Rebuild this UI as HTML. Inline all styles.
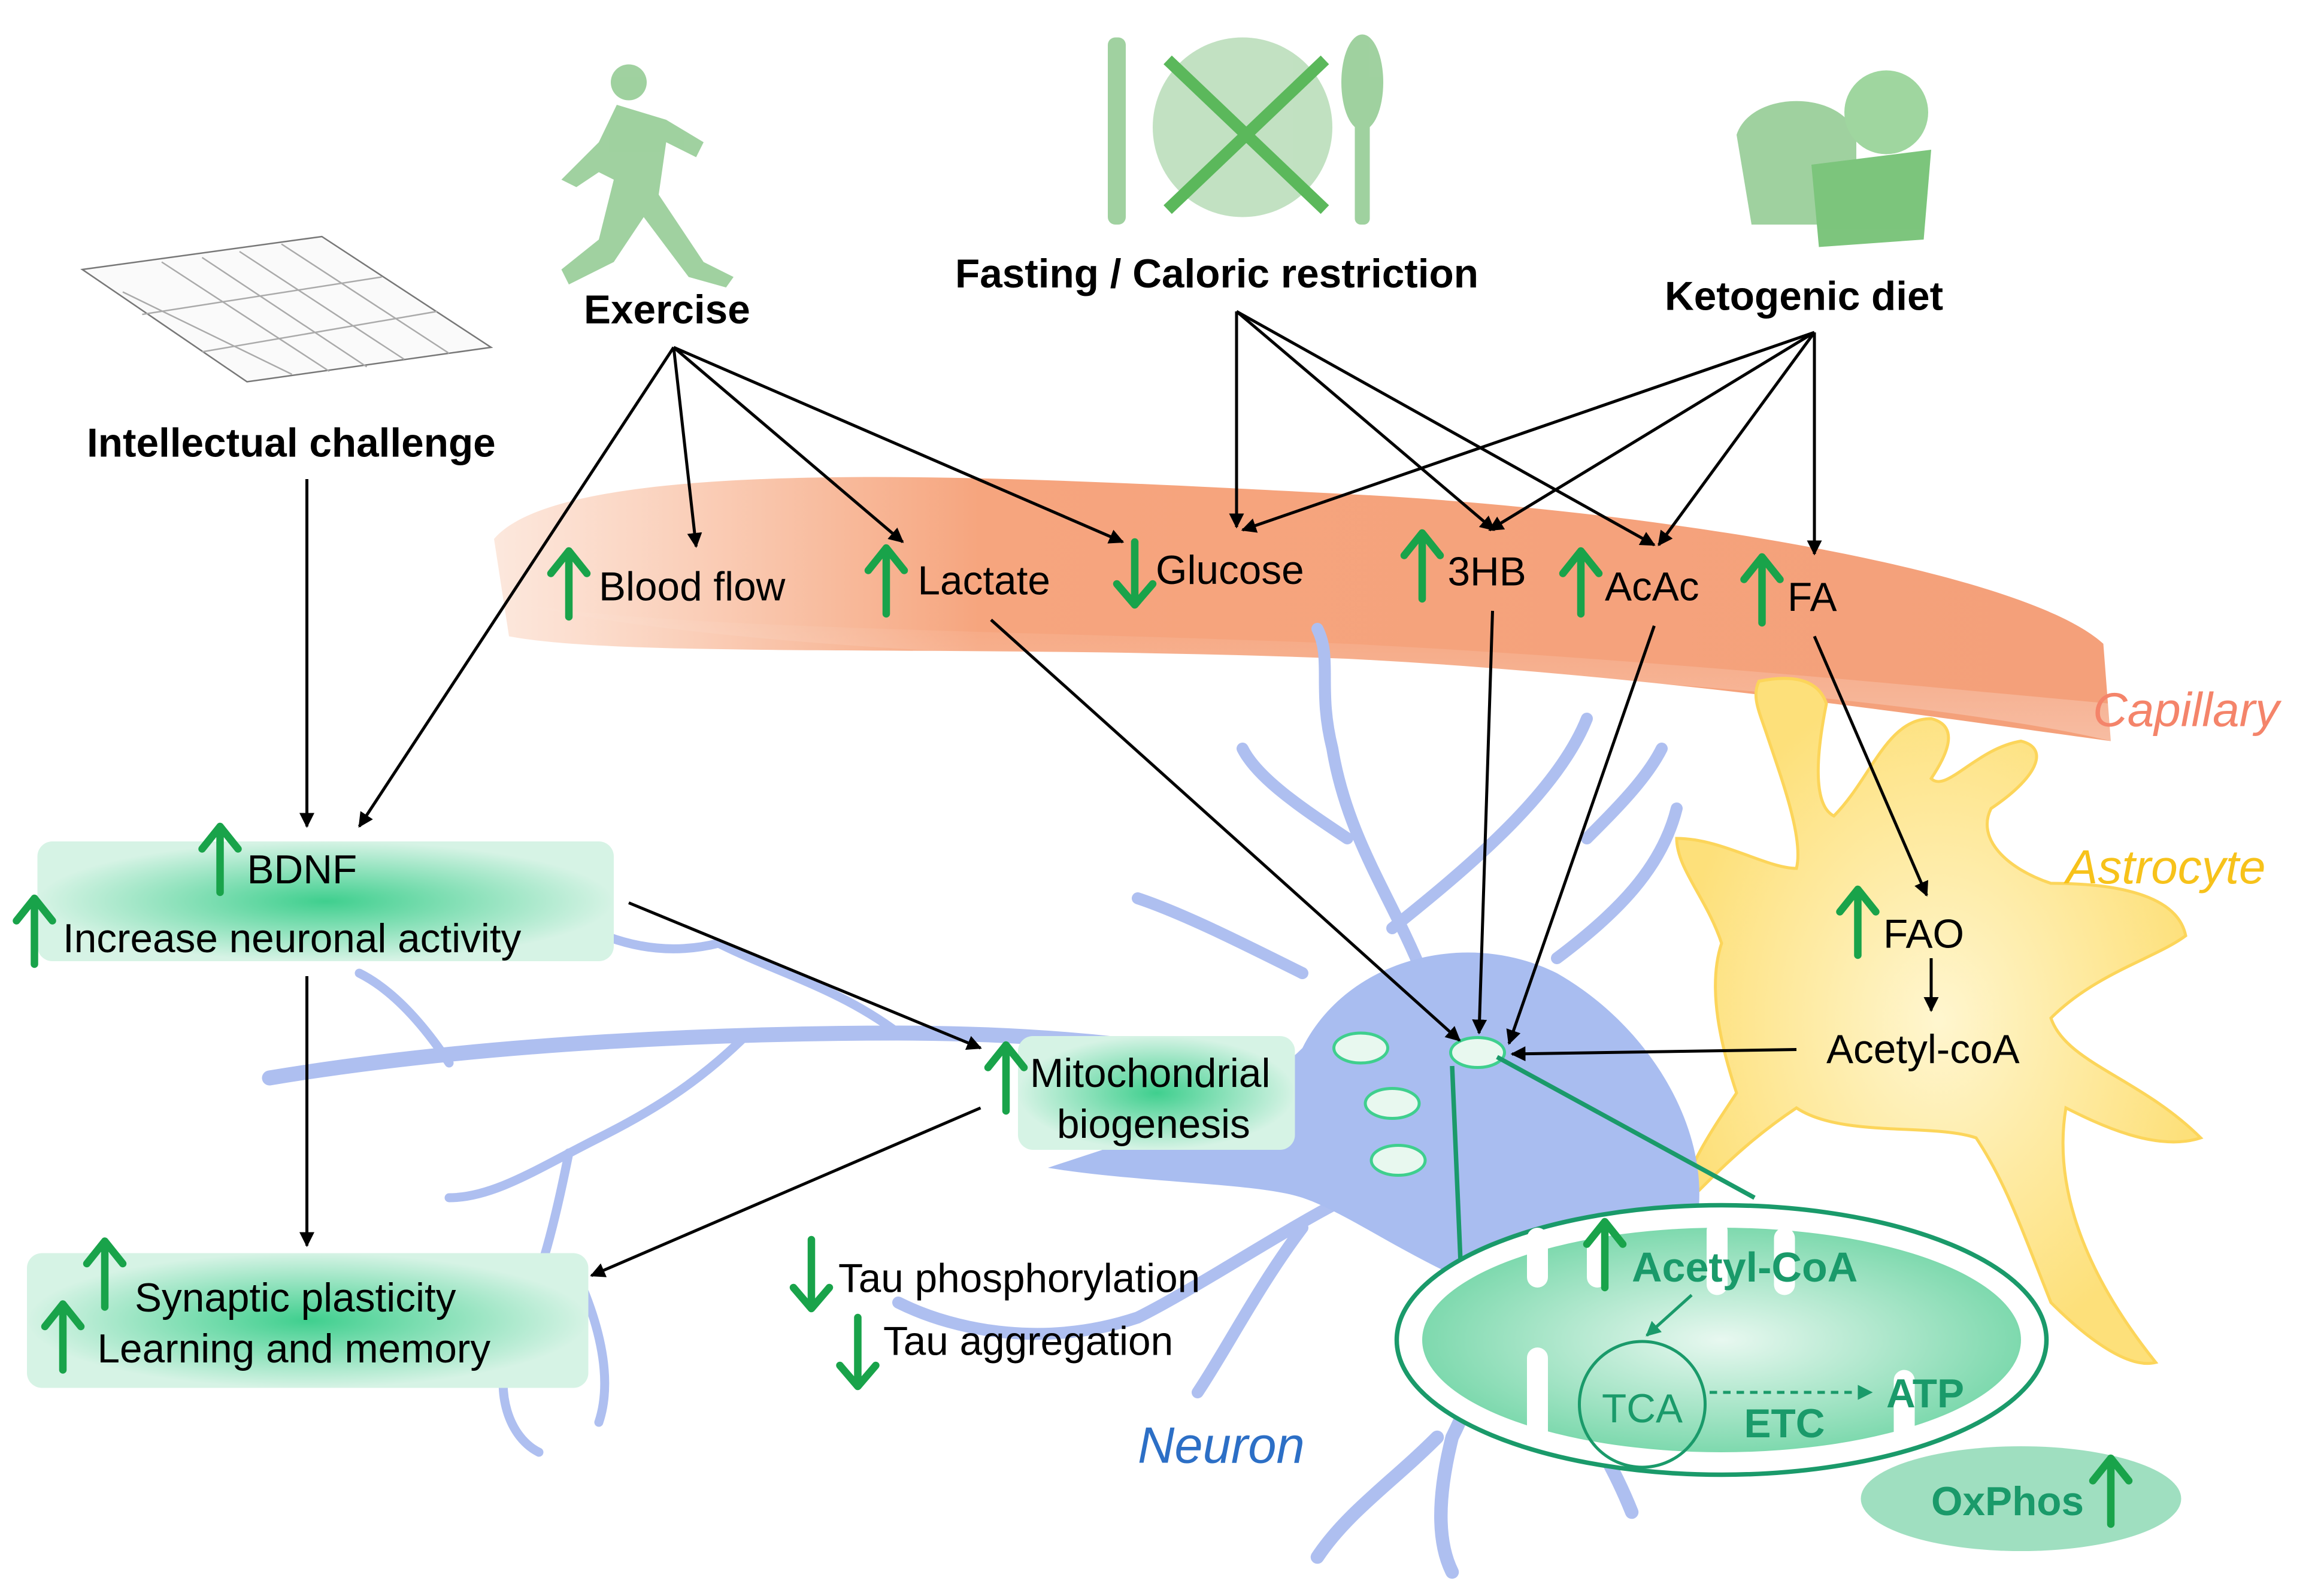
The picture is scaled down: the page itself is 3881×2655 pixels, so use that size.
<!DOCTYPE html>
<html><head><meta charset="utf-8"><style>
html,body{margin:0;padding:0;background:#fff}
svg{display:block}
text{font-family:"Liberation Sans",Arial,sans-serif}
</style></head><body>
<svg width="3881" height="2655" viewBox="0 0 1552.4 1062" xmlns="http://www.w3.org/2000/svg">
<defs>
<marker id="a" markerWidth="10" markerHeight="10" refX="9" refY="5" orient="auto" markerUnits="userSpaceOnUse"><path d="M0,0 L10,5 L0,10 z" fill="#000"/></marker>
<marker id="g" markerWidth="10" markerHeight="10" refX="9" refY="5" orient="auto" markerUnits="userSpaceOnUse"><path d="M0,0 L10,5 L0,10 z" fill="#1a9a6a"/></marker>
<linearGradient id="cap" x1="0" x2="1" y1="0" y2="0"><stop offset="0" stop-color="#f7b28e" stop-opacity="0.3"/><stop offset="0.3" stop-color="#f6a57e"/><stop offset="1" stop-color="#f4a07a"/></linearGradient>
<linearGradient id="capv" x1="0" x2="0" y1="0" y2="1"><stop offset="0" stop-color="#fff" stop-opacity="0"/><stop offset="1" stop-color="#fff" stop-opacity="0.6"/></linearGradient>
<radialGradient id="gb"><stop offset="0" stop-color="#3fcf8e"/><stop offset="1" stop-color="#d6f3e5"/></radialGradient>
<radialGradient id="mito"><stop offset="0" stop-color="#e8f8f0"/><stop offset="1" stop-color="#7ed9ae"/></radialGradient>
<radialGradient id="ast"><stop offset="0" stop-color="#fff6cf"/><stop offset="1" stop-color="#fde07a"/></radialGradient>
</defs>

<!-- capillary -->
<path d="M330,360 C380,300 700,320 900,330 C1100,340 1350,380 1405,430 L1410,495 C1300,480 1100,450 900,440 C650,430 420,440 340,425 Z" fill="url(#cap)"/>
<path d="M330,400 C500,440 800,440 1000,450 C1200,460 1350,480 1410,495 L1410,470 C1300,460 1100,440 900,430 C650,420 420,420 330,400Z" fill="url(#capv)" opacity="0.5"/>
<text x="1398" y="485" font-size="32" font-style="italic" fill="#f4846a">Capillary</text>

<!-- astrocyte -->
<g fill="url(#ast)" stroke="#fcd55a" stroke-width="2">
<path d="M1175,455 C1200,450 1215,455 1220,470 C1210,520 1215,540 1225,545 C1250,520 1260,480 1290,480 C1310,485 1300,505 1290,520 C1300,530 1320,500 1350,495 C1370,500 1360,520 1330,540 C1320,560 1340,580 1370,590 C1420,590 1455,600 1460,625 C1440,640 1400,650 1370,680 C1380,710 1430,720 1470,760 C1440,770 1400,750 1380,740 C1370,800 1400,860 1440,910 C1420,915 1390,890 1370,870 C1350,820 1340,790 1320,760 C1290,750 1230,760 1200,740 C1170,760 1150,780 1130,800 C1120,790 1140,760 1160,730 C1150,700 1140,660 1150,630 C1140,600 1120,580 1120,560 C1150,560 1180,580 1200,580 C1205,560 1190,520 1180,490 C1175,475 1170,465 1175,455Z"/>
</g>
<text x="1380" y="590" font-size="32" font-style="italic" fill="#f7c21a">Astrocyte</text>

<!-- neuron -->
<g stroke="#aebff0" fill="none" stroke-linecap="round">
<path d="M870,720 C800,700 700,690 600,690 C450,690 300,700 180,720" stroke-width="10"/>
<path d="M600,690 C560,660 520,650 480,630 M480,630 C440,640 400,630 360,600 M500,690 C470,720 440,740 400,760 M400,760 C360,780 330,800 300,800 M300,710 C280,680 260,660 240,650" stroke-width="6"/>
<path d="M1020,780 C1000,850 1000,900 970,960 C960,1000 960,1030 970,1050 M960,960 C930,990 900,1010 880,1040 M1000,880 C1040,920 1070,960 1090,1010" stroke-width="9"/>
<path d="M950,650 C930,600 900,560 890,500 C880,460 890,440 880,420 M900,560 C870,540 840,520 830,500 M930,620 C980,580 1040,530 1060,480 M1040,640 C1080,610 1110,580 1120,540 M1060,560 C1080,540 1100,520 1110,500 M870,650 C830,630 790,610 760,600" stroke-width="8"/>
<path d="M900,800 C860,820 800,860 760,880 M760,880 C700,900 640,890 600,870 M870,820 C840,860 820,900 800,930" stroke-width="8"/>
<path d="M380,770 C370,820 360,860 340,900 M340,900 C330,930 340,960 360,970 M380,840 C400,880 410,920 400,950" stroke-width="6"/>
</g>
<path d="M870,700 C900,640 980,620 1040,650 C1110,690 1150,770 1130,830 C1100,870 1040,880 990,860 C940,840 900,810 870,800 C840,790 760,790 700,780 C760,760 830,740 870,700Z" fill="#a9bdf0"/>
<g fill="#e8f8ef" stroke="#3fcf8e" stroke-width="2">
<ellipse cx="909" cy="700" rx="18" ry="10"/><ellipse cx="930" cy="737" rx="18" ry="10"/><ellipse cx="934" cy="775" rx="18" ry="10"/><ellipse cx="987" cy="703" rx="18" ry="10"/>
</g>
<text x="760" y="977" font-size="34" font-style="italic" fill="#2c6fc6">Neuron</text>

<!-- mitochondrion -->
<line x1="970" y1="712" x2="976" y2="852" stroke="#1a9a6a" stroke-width="3"/>
<line x1="1000" y1="706" x2="1172" y2="800" stroke="#1a9a6a" stroke-width="3"/>
<ellipse cx="1150" cy="895" rx="217" ry="90" fill="#fff" stroke="#1a9a6a" stroke-width="3"/>
<ellipse cx="1150" cy="895" rx="200" ry="75" fill="url(#mito)"/>
<g fill="#fff"><rect x="1020" y="900" width="14" height="65" rx="7"/><rect x="1020" y="820" width="14" height="40" rx="7"/><rect x="1140" y="815" width="14" height="50" rx="7"/><rect x="1185" y="820" width="14" height="45" rx="7"/><rect x="1265" y="915" width="14" height="50" rx="7"/><rect x="1060" y="820" width="14" height="40" rx="7"/></g>
<circle cx="1097" cy="938" r="42" fill="none" stroke="#1a9a6a" stroke-width="2"/>
<text x="1070" y="950" font-size="27" fill="#1a9a6a">TCA</text>
<text x="1090" y="856" font-size="28" font-weight="bold" fill="#1a9a6a">Acetyl-CoA</text>
<text x="1165" y="960" font-size="27" font-weight="bold" fill="#1a9a6a">ETC</text>
<text x="1260" y="940" font-size="27" font-weight="bold" fill="#1a9a6a">ATP</text>
<line x1="1130" y1="865" x2="1100" y2="892" stroke="#1a9a6a" stroke-width="2" marker-end="url(#g)"/>
<line x1="1142" y1="930" x2="1250" y2="930" stroke="#1a9a6a" stroke-width="2" stroke-dasharray="5,4" marker-end="url(#g)"/>
<ellipse cx="1350" cy="1001" rx="107" ry="35" fill="#9fdfc0"/>
<text x="1290" y="1012" font-size="27" font-weight="bold" fill="#1a9a6a">OxPhos</text>

<!-- green boxes -->
<rect x="25" y="562" width="385" height="80" rx="10" fill="url(#gb)"/>
<rect x="18" y="837" width="375" height="90" rx="10" fill="url(#gb)"/>
<rect x="680" y="692" width="185" height="76" rx="10" fill="url(#gb)"/>

<!-- icons -->
<g fill="#8fc98f" opacity="0.85">
<circle cx="420" cy="55" r="12"/>
<path d="M412,70 L445,80 L470,95 L465,105 L445,95 L440,130 L470,175 L490,185 L485,192 L460,185 L430,145 L410,175 L380,190 L375,180 L400,160 L410,120 L400,115 L385,125 L375,120 L400,95Z"/>
<rect x="740" y="25" width="12" height="125" rx="5"/>
<ellipse cx="830" cy="85" rx="60" ry="60" fill="#b7dcb7"/>
<ellipse cx="910" cy="55" rx="14" ry="32"/><rect x="905" y="80" width="10" height="70" rx="4"/>
<path d="M1160,90 C1170,60 1230,60 1240,90 L1240,150 L1170,150Z"/>
<path d="M1210,110 L1290,100 L1285,160 L1215,165Z" fill="#66bb66"/>
<circle cx="1260" cy="75" r="28" fill="#8fd08f"/>
</g>
<g stroke="#5bb85b" stroke-width="8"><line x1="780" y1="40" x2="885" y2="140"/><line x1="885" y1="40" x2="780" y2="140"/></g>
<g stroke="#777" stroke-width="1" fill="#fafafa"><path d="M55,180 L215,158 L328,232 L165,255Z"/><path d="M95,210 L255,185 M135,235 L292,208 M108,175 L220,248 M160,168 L270,240 M82,195 L195,250 M135,172 L245,245 M188,163 L300,236" fill="none" stroke="#aaa"/></g>

<!-- black labels -->
<g font-size="27" font-weight="bold" fill="#000">
<text x="390" y="216">Exercise</text>
<text x="638" y="192">Fasting / Caloric restriction</text>
<text x="1112" y="207">Ketogenic diet</text>
<text x="58" y="305">Intellectual challenge</text>
</g>
<g font-size="27" fill="#000">
<text x="400" y="401">Blood flow</text>
<text x="613" y="397">Lactate</text>
<text x="772" y="390">Glucose</text>
<text x="967" y="391">3HB</text>
<text x="1072" y="401">AcAc</text>
<text x="1194" y="408">FA</text>
<text x="165" y="590">BDNF</text>
<text x="42" y="636">Increase neuronal activity</text>
<text x="688" y="726">Mitochondrial</text>
<text x="706" y="760">biogenesis</text>
<text x="90" y="876">Synaptic plasticity</text>
<text x="65" y="910">Learning and memory</text>
<text x="560" y="863">Tau phosphorylation</text>
<text x="590" y="905">Tau aggregation</text>
<text x="1258" y="633">FAO</text>
<text x="1220" y="710">Acetyl-coA</text>
</g>

<!-- green up/down arrows -->
<g stroke="#19a34a" stroke-width="5" fill="none" stroke-linecap="round" stroke-linejoin="round">
<path d="M380,412 V370 M368,383 L380,368 L392,383"/>
<path d="M592,410 V368 M580,381 L592,366 L604,381"/>
<path d="M758,362 V402 M746,390 L758,404 L770,390"/>
<path d="M950,400 V358 M938,371 L950,356 L962,371"/>
<path d="M1056,410 V370 M1044,383 L1056,368 L1068,383"/>
<path d="M1177,416 V374 M1165,387 L1177,372 L1189,387"/>
<path d="M147,596 V554 M135,567 L147,552 L159,567"/>
<path d="M23,644 V602 M11,615 L23,600 L35,615"/>
<path d="M672,742 V700 M660,713 L672,698 L684,713"/>
<path d="M70,873 V831 M58,844 L70,829 L82,844"/>
<path d="M42,915 V873 M30,886 L42,871 L54,886"/>
<path d="M542,828 V872 M530,860 L542,874 L554,860"/>
<path d="M573,880 V924 M561,912 L573,926 L585,912"/>
<path d="M1241,638 V596 M1229,609 L1241,594 L1253,609"/>
<path d="M1072,860 V818 M1060,831 L1072,816 L1084,831"/>
<path d="M1410,1018 V976 M1398,989 L1410,974 L1422,989"/>
</g>

<!-- black arrows -->
<g stroke="#000" stroke-width="2" fill="none" marker-end="url(#a)">
<line x1="450" y1="232" x2="465" y2="365"/>
<line x1="450" y1="232" x2="603" y2="362"/>
<line x1="450" y1="232" x2="750" y2="362"/>
<line x1="450" y1="232" x2="240" y2="552"/>
<line x1="826" y1="208" x2="826" y2="352"/>
<line x1="826" y1="208" x2="998" y2="354"/>
<line x1="826" y1="208" x2="1105" y2="364"/>
<line x1="1212" y1="222" x2="830" y2="354"/>
<line x1="1212" y1="222" x2="995" y2="354"/>
<line x1="1212" y1="222" x2="1108" y2="364"/>
<line x1="1212" y1="222" x2="1212" y2="370"/>
<line x1="205" y1="320" x2="205" y2="552"/>
<line x1="205" y1="652" x2="205" y2="832"/>
<line x1="420" y1="603" x2="655" y2="700"/>
<line x1="655" y1="740" x2="395" y2="852"/>
<line x1="662" y1="414" x2="975" y2="695"/>
<line x1="997" y1="408" x2="988" y2="690"/>
<line x1="1105" y1="418" x2="1008" y2="697"/>
<line x1="1212" y1="425" x2="1287" y2="598"/>
<line x1="1290" y1="640" x2="1290" y2="675"/>
<line x1="1200" y1="701" x2="1010" y2="704"/>
</g>
</svg>
</body></html>
